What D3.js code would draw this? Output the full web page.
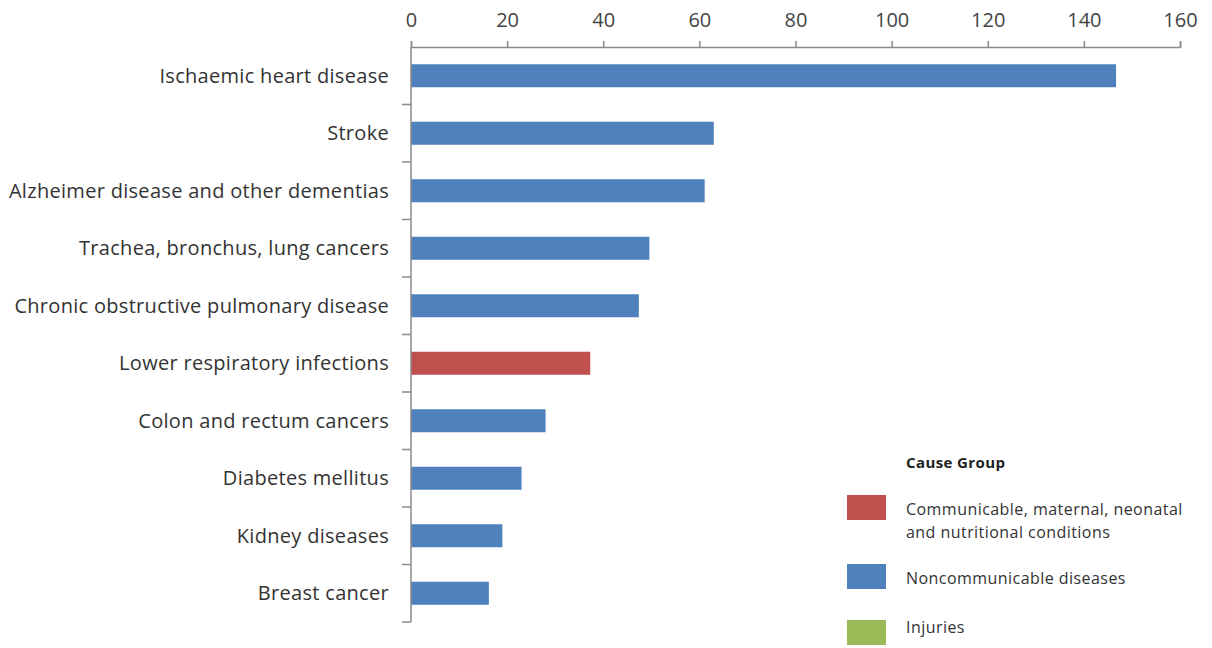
<!DOCTYPE html>
<html>
<head>
<meta charset="utf-8">
<script src="https://cdn.jsdelivr.net/npm/d3@7"></script>
<style>
  body { margin: 0; background: #fff; }
  svg text { font-family: "Open Sans", sans-serif; fill: #333; }
</style>
</head>
<body>
<div id="chart"></div>
<script>
// datos
const causes = [
  "Ischaemic heart disease",
  "Stroke",
  "Alzheimer disease and other dementias",
  "Trachea, bronchus, lung cancers",
  "Chronic obstructive pulmonary disease",
  "Lower respiratory infections",
  "Colon and rectum cancers",
  "Diabetes mellitus",
  "Kidney diseases",
  "Breast cancer"
];
const deaths = [146.7, 63.0, 61.1, 49.6, 47.4, 37.3, 28.0, 23.0, 19.0, 16.2];
const groups = ["N", "N", "N", "N", "N", "C", "N", "N", "N", "N"];
const xTicks = [0, 20, 40, 60, 80, 100, 120, 140, 160];

const legendKeys = ["C", "N", "I"];
const legendLabels = [
  ["Communicable, maternal, neonatal", "and nutritional conditions"],
  ["Noncommunicable diseases"],
  ["Injuries"]
];
const legendColors = ["#c0504d", "#4f81bd", "#9bbb59"];

const width = 1212, height = 648;
const margin = { top: 47, left: 411, right: 32, bottom: 26 };

const svg = d3.select("#chart").append("svg")
    .attr("width", width)
    .attr("height", height);

const x = d3.scaleLinear()
    .domain([0, 160])
    .range([margin.left, width - margin.right]);

const y = d3.scaleBand()
    .domain(causes)
    .range([margin.top, height - margin.bottom])
    .paddingInner(0.6)
    .paddingOuter(0.3);

const color = d3.scaleOrdinal()
    .domain(legendKeys)
    .range(legendColors);

// barras
svg.append("g")
  .selectAll("rect")
  .data(causes)
  .join("rect")
    .attr("x", x(0))
    .attr("y", d => y(d))
    .attr("width", (d, i) => x(deaths[i]) - x(0))
    .attr("height", y.bandwidth())
    .attr("fill", (d, i) => color(groups[i]));

// eje x arriba
const xAxis = svg.append("g")
    .attr("transform", `translate(0,${margin.top})`)
    .call(d3.axisTop(x).tickValues(xTicks).tickSize(6).tickPadding(14));
xAxis.select(".domain").attr("stroke", "#8a8a8a").attr("stroke-width", 1.5);
xAxis.selectAll(".tick line").attr("stroke", "#8a8a8a").attr("stroke-width", 1.5);
xAxis.selectAll(".tick text")
    .attr("font-size", "20px")
    .style("fill", "#444");

// eje y con marcas entre categorias
const yAxis = svg.append("g")
    .attr("transform", `translate(${x(0)},0)`);
yAxis.append("line")
    .attr("y1", margin.top)
    .attr("y2", height - margin.bottom)
    .attr("stroke", "#8a8a8a")
    .attr("stroke-width", 1.5);

const step = y.step();
const bounds = d3.range(causes.length + 1).map(i => margin.top + i * step);
yAxis.selectAll(".sep")
  .data(bounds.slice(1))
  .join("line")
    .attr("x1", -9)
    .attr("x2", 0)
    .attr("y1", d => d)
    .attr("y2", d => d)
    .attr("stroke", "#8a8a8a")
    .attr("stroke-width", 1.5);

yAxis.selectAll(".lbl")
  .data(causes)
  .join("text")
    .attr("x", -22)
    .attr("y", d => y(d) + y.bandwidth() / 2)
    .attr("dy", "0.35em")
    .attr("text-anchor", "end")
    .attr("font-size", "20px")
    .attr("letter-spacing", "0.3px")
    .style("fill", "#333")
    .text(d => d);

// leyenda
const legend = svg.append("g")
    .attr("transform", "translate(847,0)");

legend.append("text")
    .attr("x", 59)
    .attr("y", 468)
    .attr("font-size", "15px")
    .attr("font-weight", "bold")
    .attr("letter-spacing", "0.4px")
    .style("fill", "#222")
    .text("Cause Group");

const swatchY = [495, 564, 620];
const textY = [515, 584, 633];

legendKeys.forEach((k, i) => {
  legend.append("rect")
      .attr("x", 0)
      .attr("y", swatchY[i])
      .attr("width", 39)
      .attr("height", 25)
      .attr("fill", color(k));
  legendLabels[i].forEach((line, j) => {
    legend.append("text")
        .attr("x", 59)
        .attr("y", textY[i] + j * 23)
        .attr("font-size", "16px")
        .attr("letter-spacing", "0.45px")
        .style("fill", "#333")
        .text(line);
  });
});
</script>
</body>
</html>
